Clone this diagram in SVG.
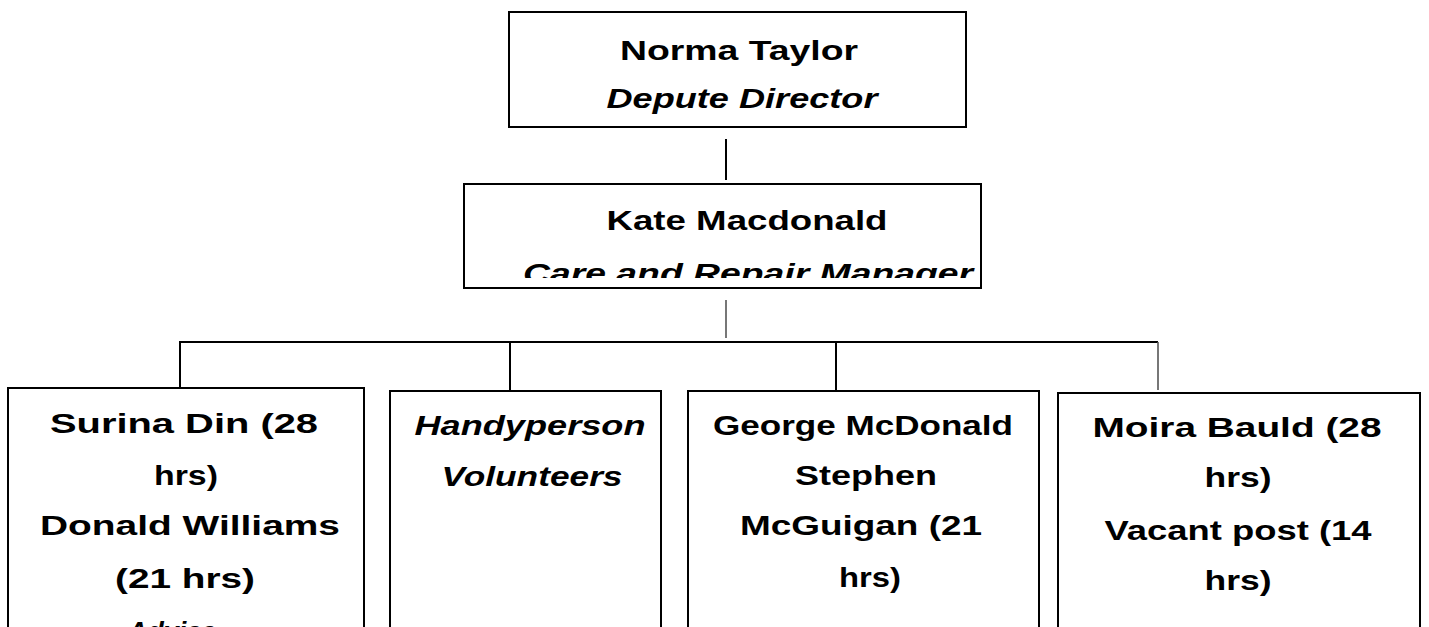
<svg xmlns="http://www.w3.org/2000/svg" width="1429" height="627" viewBox="0 0 1429 627">
<style>
.box{fill:#fff;stroke:#000;stroke-width:2}
.t{font-family:"Liberation Sans",Arial,sans-serif;font-size:27px;font-weight:bold;fill:#000;text-anchor:middle}
.i{font-style:italic}
.c{stroke:#000;stroke-width:2;fill:none}
.g{stroke:#555;stroke-width:1.6;fill:none}
</style>
<defs>
<clipPath id="clipMgr"><rect x="464" y="184" width="517" height="94"/></clipPath>
<clipPath id="clipPage"><rect x="0" y="0" width="1429" height="627"/></clipPath>
</defs>
<rect width="1429" height="627" fill="#fff"/>
<g id="connectors">
<line class="c" x1="726" y1="139" x2="726" y2="180"/>
<line class="g" x1="726" y1="300" x2="726" y2="338"/>
<line class="c" x1="179" y1="342" x2="1158" y2="342"/>
<line class="c" x1="180" y1="342" x2="180" y2="389"/>
<line class="c" x1="510" y1="342" x2="510" y2="391"/>
<line class="c" x1="836" y1="342" x2="836" y2="391"/>
<line class="g" x1="1158" y1="342" x2="1158" y2="390"/>
</g>
<g id="director">
<rect class="box" x="509" y="12" width="457" height="115"/>
<text class="t" x="739" y="60" textLength="238" lengthAdjust="spacingAndGlyphs">Norma Taylor</text>
<text class="t i" x="742" y="108" textLength="271" lengthAdjust="spacingAndGlyphs">Depute Director</text>
</g>
<g id="manager">
<rect class="box" x="464" y="184" width="517" height="104"/>
<text class="t" x="747" y="230" textLength="281" lengthAdjust="spacingAndGlyphs">Kate Macdonald</text>
<text class="t i" x="748" y="283" textLength="450" lengthAdjust="spacingAndGlyphs" clip-path="url(#clipMgr)">Care and Repair Manager</text>
</g>
<g id="advice">
<rect class="box" x="8" y="388" width="356" height="260"/>
<text class="t" x="184" y="433" textLength="268" lengthAdjust="spacingAndGlyphs">Surina Din (28</text>
<text class="t" x="186" y="485" textLength="64" lengthAdjust="spacingAndGlyphs">hrs)</text>
<text class="t" x="190" y="535" textLength="300" lengthAdjust="spacingAndGlyphs">Donald Williams</text>
<text class="t" x="185" y="588" textLength="140" lengthAdjust="spacingAndGlyphs">(21 hrs)</text>
<text class="t i" x="172" y="641" clip-path="url(#clipPage)">Advice</text>
</g>
<g id="handyperson">
<rect class="box" x="390" y="391" width="271" height="260"/>
<text class="t i" x="530" y="435" textLength="231" lengthAdjust="spacingAndGlyphs">Handyperson</text>
<text class="t i" x="532" y="486" textLength="181" lengthAdjust="spacingAndGlyphs">Volunteers</text>
</g>
<g id="technicians">
<rect class="box" x="688" y="391" width="351" height="260"/>
<text class="t" x="863" y="435" textLength="300" lengthAdjust="spacingAndGlyphs">George McDonald</text>
<text class="t" x="866" y="485" textLength="142" lengthAdjust="spacingAndGlyphs">Stephen</text>
<text class="t" x="861" y="535" textLength="242" lengthAdjust="spacingAndGlyphs">McGuigan (21</text>
<text class="t" x="870" y="587" textLength="62" lengthAdjust="spacingAndGlyphs">hrs)</text>
</g>
<g id="admin">
<rect class="box" x="1058" y="393" width="362" height="260"/>
<text class="t" x="1237" y="437" textLength="289" lengthAdjust="spacingAndGlyphs">Moira Bauld (28</text>
<text class="t" x="1238" y="487" textLength="67" lengthAdjust="spacingAndGlyphs">hrs)</text>
<text class="t" x="1238" y="540" textLength="267" lengthAdjust="spacingAndGlyphs">Vacant post (14</text>
<text class="t" x="1238" y="590" textLength="67" lengthAdjust="spacingAndGlyphs">hrs)</text>
</g>
</svg>
